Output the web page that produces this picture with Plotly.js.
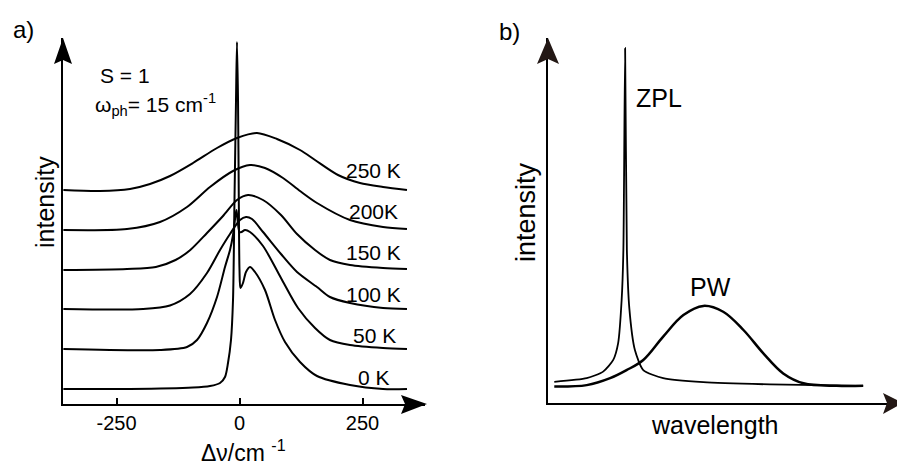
<!DOCTYPE html>
<html><head><meta charset="utf-8">
<script src="https://cdn.plot.ly/plotly-3.0.1.min.js"></script>
<style>html,body{margin:0;padding:0;background:#fff;} #chart{width:897px;height:466px;}</style>
</head><body><div id="chart"></div>
<script>
// ---------- Panel a: spectra vs. frequency shift (cm^-1), stacked by temperature ----------
const shiftTicks  = [-250, 0, 250];
const shiftLabels = ['-250', '0', '250'];
const tempLabels  = ['0 K', '50 K', '100 K', '150 K', '200K', '250 K'];

const x0K = [-358,-222.6,-94.5,-60,-39.6,-29.5,-23.4,-17.3,-13.2,-10.2,-7.1,-5.1,-3.0,-1.4,0,2.0,7.1,13.2,21.3,31.5,51.8,72.2,92.5,123,157.5,224.6,291.7,340.4];
const y0K = [0.15,0.15,0.165,0.18,0.21,0.27,0.41,0.64,1.04,2.04,3.04,3.62,3.04,2.04,1.34,1.16,1.21,1.32,1.37,1.32,1.14,0.84,0.62,0.42,0.28,0.19,0.15,0.15];

const x50K = [-358,-161.6,-106.7,-86.4,-66.1,-45.7,-29.5,-19.3,-13.2,-8.1,-6.1,-3.5,0,4.1,11.2,21.3,47.8,84.3,118.9,153.5,183.9,224.6,291.7,340.4];
const y50K = [0.55,0.54,0.57,0.64,0.81,1.07,1.37,1.54,1.69,1.89,1.94,1.82,1.72,1.72,1.74,1.72,1.58,1.26,0.96,0.76,0.64,0.59,0.56,0.55];

const x100K = [-358,-196.1,-141.3,-100.6,-66.1,-39.6,-19.3,1.0,13.2,25.4,47.8,84.3,116.9,157.5,183.9,224.6,291.7,340.4];
const y100K = [0.95,0.95,0.985,1.10,1.31,1.54,1.70,1.84,1.87,1.85,1.72,1.50,1.32,1.17,1.07,1.01,0.96,0.95];

const x150K = [-358,-228.7,-170,-130,-100,-66.1,-33.5,-5.1,17.3,47.8,84.3,116.9,153.5,183.9,224.6,291.7,340.4];
const y150K = [1.34,1.35,1.37,1.44,1.54,1.71,1.88,2.04,2.09,2.04,1.89,1.70,1.54,1.44,1.39,1.36,1.35];

const x200K = [-358,-228.7,-161.6,-106.7,-60,-13.2,21.3,51.8,88.4,123,157.5,224.6,291.7,340.4];
const y200K = [1.74,1.75,1.82,1.97,2.17,2.33,2.39,2.36,2.26,2.13,2.01,1.84,1.77,1.75];

const x250K = [-358,-283.5,-222.6,-181.9,-141.3,-94.5,-45.7,-5.1,35.6,76.2,123,153.5,200.2,244.9,291.7,340.4];
const y250K = [2.14,2.13,2.15,2.20,2.28,2.41,2.56,2.66,2.71,2.65,2.54,2.44,2.29,2.21,2.17,2.14];

// ---------- Panel b: ZPL and phonon wing vs. wavelength (arb. units) ----------
const zplX = [1.8,11.1,15.8,18.7,20.1,21.1,21.6,22.1,22.6,23.3,24.9,27.3,33.0,44.5,63.6,90.3];
const zplY = [5.8,6.8,8.6,11.8,16.4,28.2,41.9,97.2,41.9,26.0,14.5,9.0,6.8,5.7,5.1,4.7];
const pwX  = [1.8,11.1,17.8,22.5,27.3,33.0,38.8,44.5,50.2,56.0,61.7,67.4,73.2,82.7,90.3];
const pwY  = [4.5,4.9,6.8,9.0,11.8,18.2,24.1,26.6,25.0,20.0,13.6,8.1,5.4,4.7,4.7];

// ---------- build ----------
const W = 897, H = 466;
const P = (x, y) => [x / W, 1 - y / H];
const FONT = 'Liberation Sans, Arial, Helvetica, sans-serif';

const seriesA = [[x0K,y0K],[x50K,y50K],[x100K,y100K],[x150K,y150K],[x200K,y200K],[x250K,y250K]];
const traces = seriesA.map((s, i) => ({
  type: 'scatter', mode: 'lines', x: s[0], y: s[1], name: tempLabels[i],
  xaxis: 'x', yaxis: 'y', line: {color: '#000', width: 2, shape: 'spline', smoothing: 0.8},
  hoverinfo: 'skip'
}));
traces.push({type:'scatter', mode:'lines', x: zplX, y: zplY, xaxis:'x2', yaxis:'y2',
  line:{color:'#000', width:1.8, shape:'spline', smoothing:0.6}, hoverinfo:'skip'});
traces.push({type:'scatter', mode:'lines', x: pwX, y: pwY, xaxis:'x2', yaxis:'y2',
  line:{color:'#000', width:2.5, shape:'spline', smoothing:1}, hoverinfo:'skip'});

const ann = (t, x, y, size, opts) => Object.assign({
  text: t, x: P(x,y)[0], y: P(x,y)[1], xref:'paper', yref:'paper', showarrow:false,
  xanchor:'center', yanchor:'middle', font:{family:FONT, size:size, color:'#000'}
}, opts || {});

// temperature label positions (right edge, centre y) in pixels
const tempPos = [[392,377.5],[398,335.5],[403,294.5],[403,252],[400,211.5],[403,170]];
const annotations = [
  ann('a)', 23, 30, 24),
  ann('b)', 510, 31, 24),
  ann('S = 1', 125, 75, 21),
  ann('ω<sub>ph</sub>= 15 cm<sup>-1</sup>', 93, 104, 21, {xanchor:'left'}),
  ann('intensity', 45, 202, 25, {textangle:-90}),
  ann('intensity', 526, 212, 27, {textangle:-90}),
  ann('Δν/cm\u00a0<sup>-1</sup>', 243, 451, 23),
  ann('wavelength', 714, 425, 25),
  ann('ZPL', 658.5, 98, 25),
  ann('PW', 710, 287, 25)
];
tempLabels.forEach((t, i) => annotations.push(ann(t, tempPos[i][0], tempPos[i][1], 21, {xanchor:'right'})));

const tri = (pts, color) => ({
  type:'path', xref:'paper', yref:'paper',
  path: 'M' + pts.map(p => P(p[0],p[1]).join(',')).join(' L') + ' Z',
  fillcolor: color, line:{width:0}
});
const shapes = [
  tri([[63,38],[54,64],[63,60],[72,64]], '#000'),
  tri([[427,404],[401,395],[405,404],[401,414]], '#000'),
  tri([[548,38],[537,64],[548,59],[559,64]], '#231815'),
  tri([[903,403],[883,393],[887,403],[883,414]], '#231815')
];

const axBase = {showgrid:false, zeroline:false, showline:true, linecolor:'#000', linewidth:2, fixedrange:true};
const layout = {
  width: W, height: H, margin:{l:0,r:0,t:0,b:0},
  paper_bgcolor:'#fff', plot_bgcolor:'#fff', showlegend:false,
  font:{family:FONT, color:'#000'},
  xaxis: Object.assign({}, axBase, {domain:[63/W, 425/W], range:[(63-239.5)/0.492, (425-239.5)/0.492],
    tickvals: shiftTicks, ticktext: shiftLabels, ticks:'inside', ticklen:6, tickwidth:2, tickcolor:'#000',
    tickfont:{size:20, family:FONT, color:'#000'}, anchor:'y'}),
  yaxis: Object.assign({}, axBase, {domain:[1-404/H, 1-38/H], range:[0, 3.66], showticklabels:false, ticks:'', anchor:'x'}),
  xaxis2: Object.assign({}, axBase, {domain:[548/W, 1], range:[0, 100], showticklabels:false, ticks:'', anchor:'y2'}),
  yaxis2: Object.assign({}, axBase, {domain:[1-403/H, 1-38/H], range:[0, 100], showticklabels:false, ticks:'', anchor:'x2'}),
  annotations: annotations,
  shapes: shapes
};
Plotly.newPlot('chart', traces, layout, {staticPlot:true, displayModeBar:false});
</script></body></html>
